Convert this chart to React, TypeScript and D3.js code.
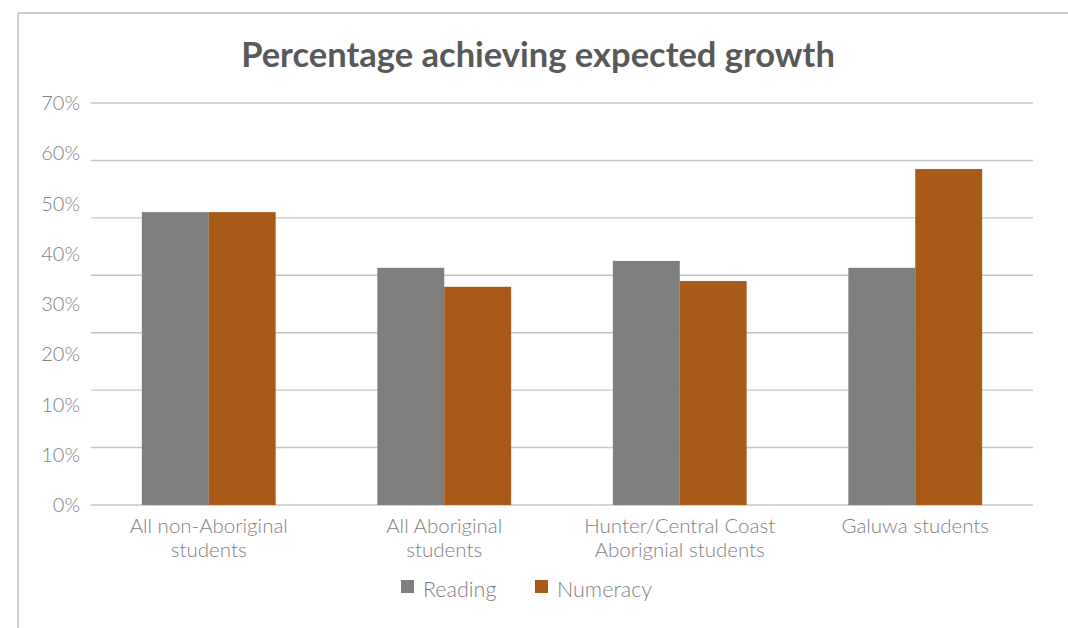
import React from "react";
import * as d3 from "d3";

const categories: string[][] = [
  ["All non-Aboriginal", "students"],
  ["All Aboriginal", "students"],
  ["Hunter/Central Coast", "Aborignial students"],
  ["Galuwa students"],
];
const seriesNames = ["Reading", "Numeracy"];
const reading = [51.0, 41.3, 42.5, 41.3];
const numeracy = [51.0, 38.0, 39.0, 58.5];
const gridValues = [0, 10, 20, 30, 40, 50, 60, 70];
const tickLabels = ["70%", "60%", "50%", "40%", "30%", "20%", "10%", "10%", "0%"];
const colors = ["#7F7F7F", "#A85A18"];

const W = 1068;
const H = 628;
const left = 91;
const right = 1033;
const top = 103;
const bottom = 505;
const FONT = "Lato, 'Open Sans', sans-serif";

export default function App() {
  const keys = categories.map((c) => c.join(" "));
  const x = d3.scaleBand<string>().domain(keys).range([left, right]).padding(0);
  const xs = d3
    .scaleBand<string>()
    .domain(seriesNames)
    .range([0, x.bandwidth()])
    .paddingInner(0)
    .paddingOuter(0.76);
  const y = d3.scaleLinear().domain([0, 70]).range([bottom, top]);
  const yl = d3.scalePoint<number>().domain(tickLabels.map((_, i) => i)).range([top, bottom]);
  const series = [reading, numeracy];

  return (
    <svg
      width={W}
      height={H}
      style={{ position: "absolute", left: 0, top: 0, display: "block", background: "#fff" }}
    >
      <line x1={18} x2={W} y1={13} y2={13} stroke="#BFBFBF" strokeWidth={1.5} />
      <line x1={18} x2={18} y1={13} y2={H} stroke="#BFBFBF" strokeWidth={1.5} />
      <text
        x={538}
        y={67}
        textAnchor="middle"
        fontFamily={FONT}
        fontWeight={700}
        fontSize={34.5}
        fill="#595959"
      >
        Percentage achieving expected growth
      </text>
      {gridValues.map((v) => (
        <line
          key={v}
          x1={left}
          x2={right}
          y1={y(v)}
          y2={y(v)}
          stroke="#C4C4C4"
          strokeWidth={1.4}
        />
      ))}
      {tickLabels.map((t, i) => (
        <text
          key={i}
          x={80}
          y={yl(i)!}
          dy="0.35em"
          textAnchor="end"
          fontFamily={FONT}
          fontWeight={300}
          fontSize={20}
          fill="#7F7F7F"
        >
          {t}
        </text>
      ))}
      {keys.map((k, ci) => (
        <g key={k} transform={`translate(${x(k)},0)`}>
          {seriesNames.map((s, si) => (
            <rect
              key={s}
              x={xs(s)}
              y={y(series[si][ci])}
              width={xs.bandwidth()}
              height={y(0) - y(series[si][ci])}
              fill={colors[si]}
            />
          ))}
        </g>
      ))}
      {categories.map((lines, ci) => (
        <text
          key={ci}
          x={x(keys[ci])! + x.bandwidth() / 2}
          y={533}
          textAnchor="middle"
          fontFamily={FONT}
          fontWeight={300}
          fontSize={20.5}
          fill="#7F7F7F"
        >
          {lines.map((l, li) => (
            <tspan key={li} x={x(keys[ci])! + x.bandwidth() / 2} dy={li === 0 ? 0 : 24}>
              {l}
            </tspan>
          ))}
        </text>
      ))}
      <g>
        {seriesNames.map((s, si) => {
          const lx = si === 0 ? 401 : 535;
          return (
            <g key={s}>
              <rect x={lx} y={580} width={13} height={13} fill={colors[si]} />
              <text
                x={lx + 22}
                y={597}
                fontFamily={FONT}
                fontWeight={300}
                fontSize={21.5}
                fill="#7F7F7F"
              >
                {s}
              </text>
            </g>
          );
        })}
      </g>
    </svg>
  );
}
